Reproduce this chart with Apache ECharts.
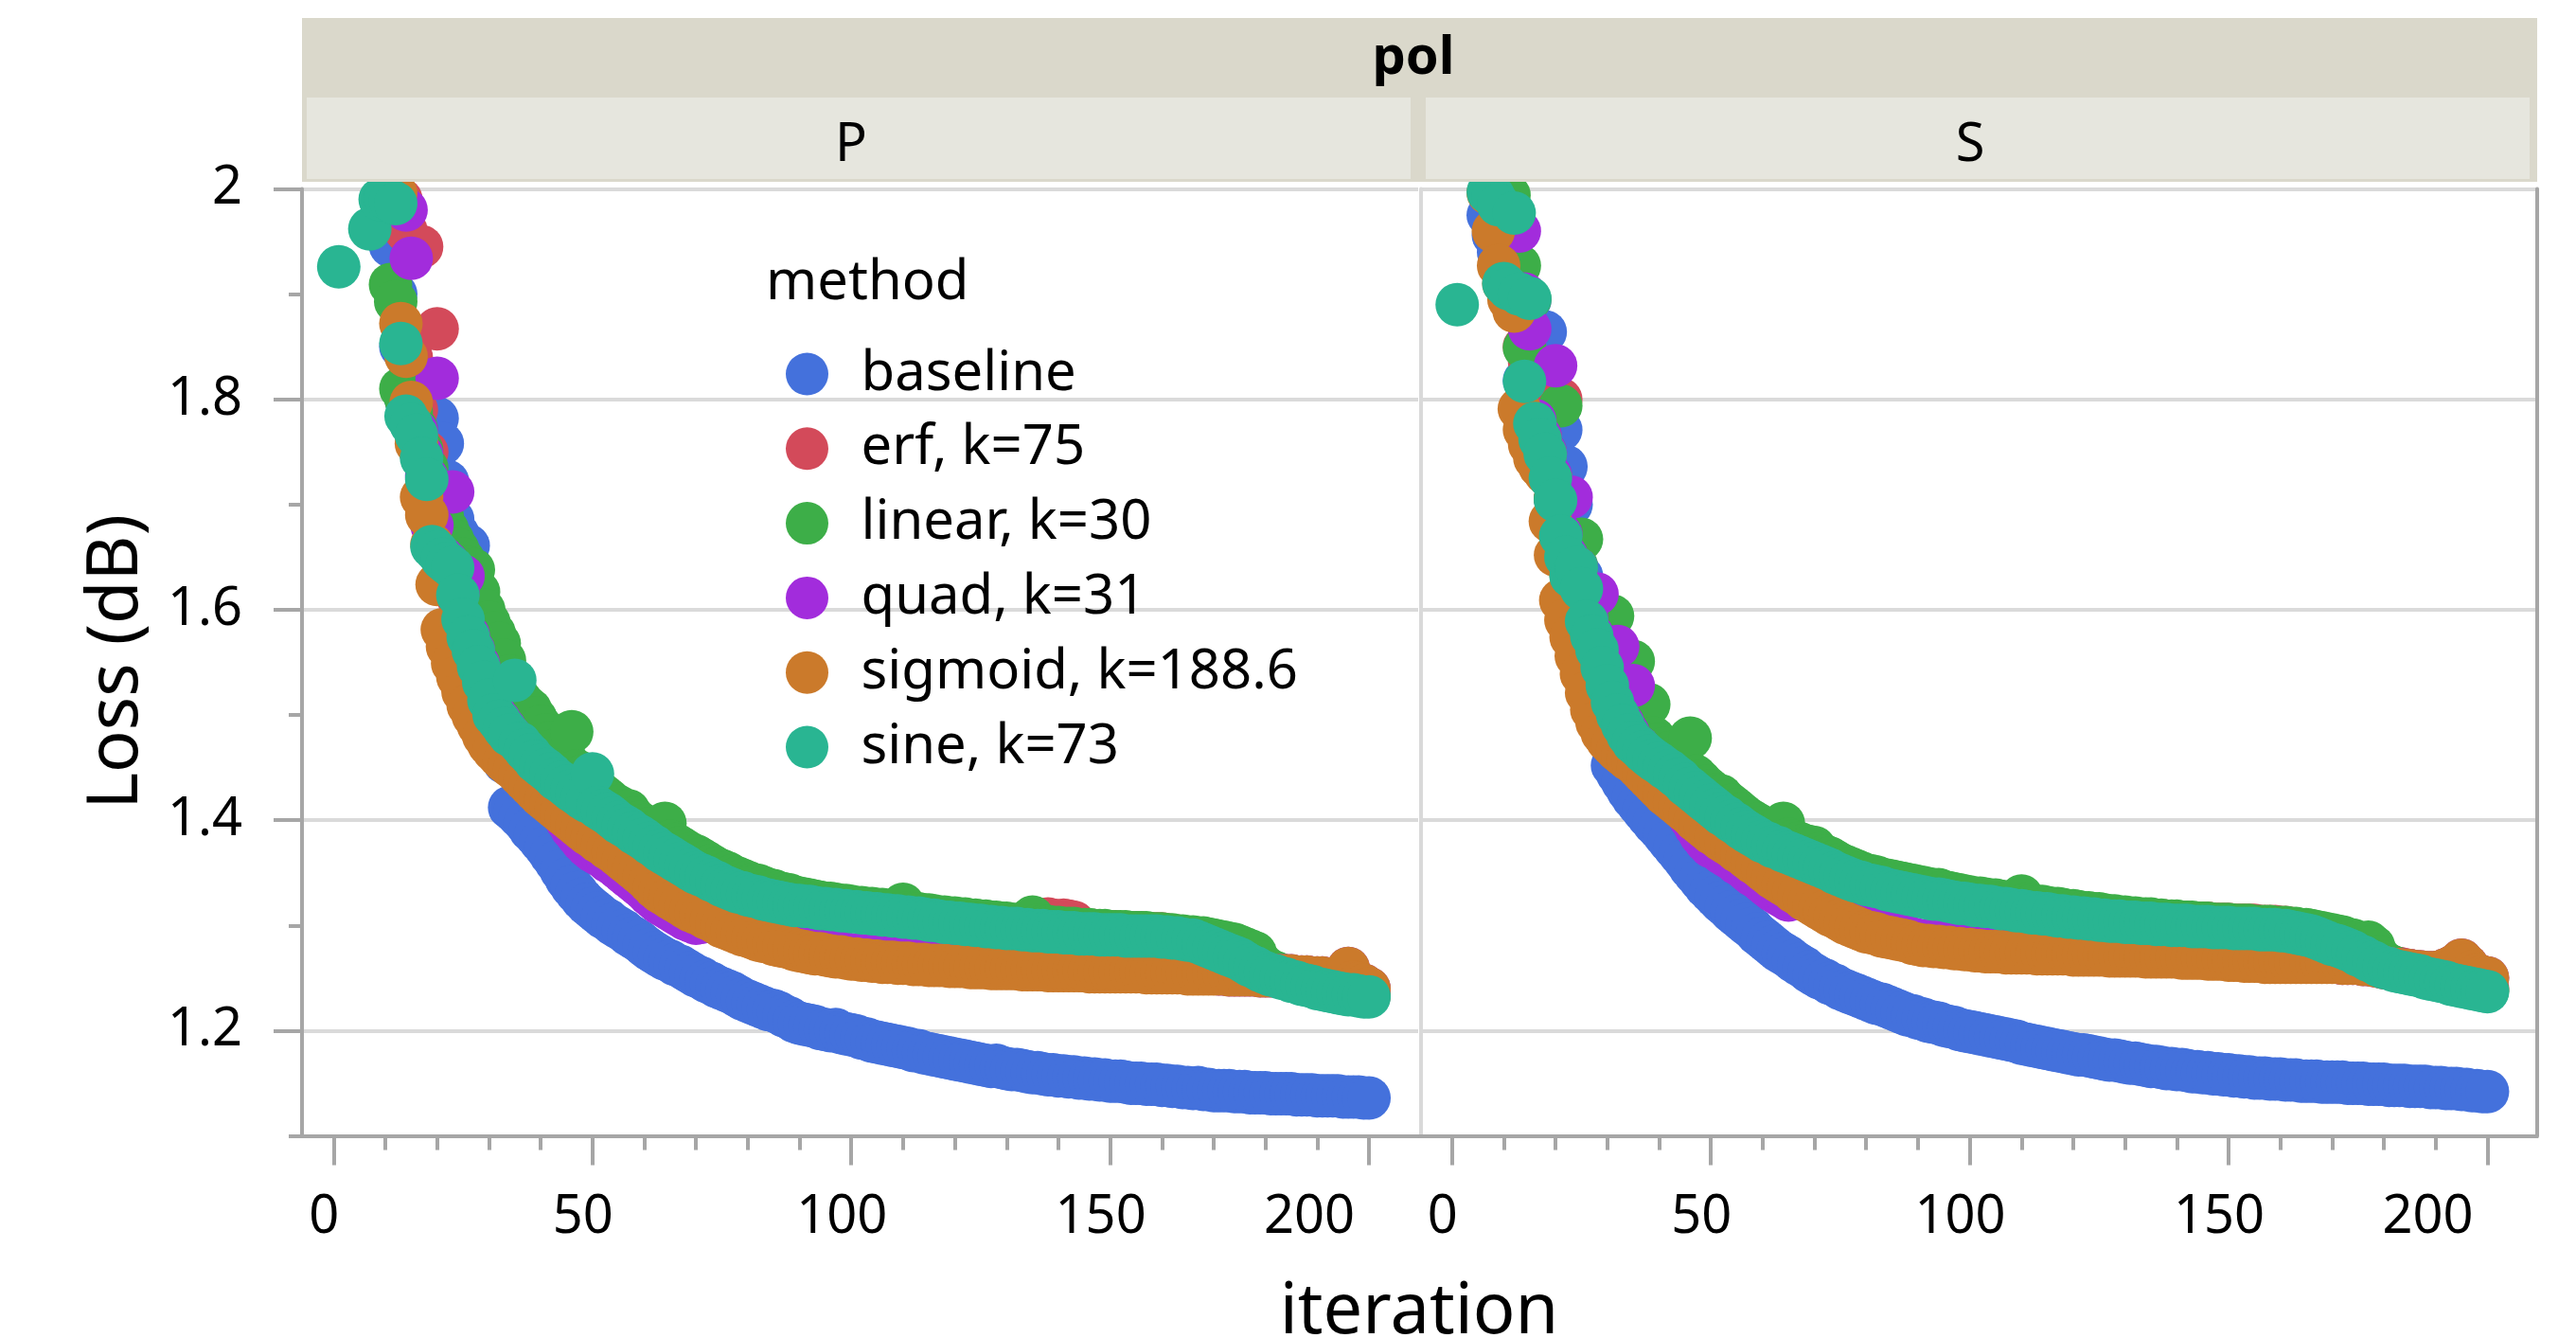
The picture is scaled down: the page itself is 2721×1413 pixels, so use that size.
<!DOCTYPE html>
<html><head><meta charset="utf-8">
<script src="https://cdn.jsdelivr.net/npm/echarts@6/dist/echarts.min.js"></script>
<style>html,body{margin:0;padding:0;background:#fff}#c{width:2721px;height:1413px}</style>
</head><body><div id="c"></div><script>
const _ = null;
const methods = ['baseline', 'erf, k=75', 'linear, k=30', 'quad, k=31', 'sigmoid, k=188.6', 'sine, k=73'];
const methodColors = ['#4471DC', '#D34A5A', '#3DAE48', '#A22CDC', '#CB7A2B', '#29B592'];
const panels = ['P', 'S'];
const facetTitle = 'pol';
const xTicks = [0, 50, 100, 150, 200];
const xMinorTicks = [0, 10, 20, 30, 40, 50, 60, 70, 80, 90, 100, 110, 120, 130, 140, 150, 160, 170, 180, 190, 200];
const yTicks = [1.2, 1.4, 1.6, 1.8, 2.0];
const iterations = Array.from({length: 200}, (d, i) => i + 1);

// ---- panel P ----
const P_baseline = [_,_,_,_,_,_,_,_,_,_,
1.946,1.900,1.850,1.800,1.780,1.768,1.748,1.728,1.700,1.782,
1.758,1.722,1.686,1.672,1.650,1.661,1.600,1.575,1.550,1.528,
1.505,1.480,1.455,1.412,1.408,1.403,1.398,1.391,1.386,1.380,
1.374,1.367,1.360,1.352,1.344,1.337,1.331,1.325,1.320,1.316,
1.312,1.308,1.305,1.301,1.298,1.295,1.291,1.288,1.285,1.281,
1.277,1.274,1.271,1.268,1.266,1.263,1.261,1.258,1.255,1.252,
1.250,1.247,1.245,1.242,1.240,1.238,1.236,1.233,1.230,1.228,
1.226,1.224,1.222,1.220,1.219,1.217,1.214,1.212,1.209,1.207,
1.206,1.205,1.204,1.202,1.201,1.200,1.201,1.198,1.197,1.196,
1.195,1.193,1.192,1.190,1.189,1.188,1.187,1.186,1.185,1.184,
1.183,1.181,1.181,1.179,1.178,1.177,1.176,1.175,1.174,1.173,
1.172,1.171,1.170,1.169,1.168,1.167,1.166,1.167,1.165,1.164,
1.163,1.163,1.162,1.161,1.160,1.160,1.159,1.158,1.158,1.157,
1.157,1.156,1.156,1.155,1.155,1.154,1.154,1.153,1.153,1.152,
1.152,1.152,1.151,1.150,1.150,1.150,1.149,1.149,1.149,1.148,
1.148,1.147,1.147,1.146,1.146,1.145,1.146,1.144,1.144,1.143,
1.143,1.143,1.143,1.142,1.142,1.142,1.141,1.141,1.141,1.141,
1.140,1.140,1.140,1.140,1.140,1.139,1.139,1.139,1.139,1.138,
1.138,1.138,1.138,1.138,1.137,1.137,1.137,1.137,1.136,1.136];

const P_erf = [_,_,_,_,_,_,_,_,_,_,
_,_,1.990,1.960,1.840,1.790,1.945,1.750,1.700,1.867,
1.655,1.645,1.640,1.612,1.590,1.575,1.560,1.546,1.530,1.515,
1.501,1.494,1.488,1.482,1.476,1.475,1.469,1.464,1.459,1.455,
1.450,1.446,1.442,1.438,1.435,1.431,1.427,1.424,1.421,1.418,
1.415,1.412,1.409,1.405,1.402,1.398,1.395,1.391,1.388,1.385,
1.381,1.378,1.374,1.371,1.368,1.365,1.362,1.359,1.356,1.353,
1.351,1.349,1.346,1.344,1.341,1.339,1.337,1.335,1.334,1.332,
1.331,1.330,1.328,1.327,1.326,1.325,1.324,1.323,1.322,1.322,
1.321,1.321,1.320,1.319,1.319,1.318,1.318,1.317,1.317,1.316,
1.316,1.315,1.315,1.314,1.314,1.313,1.313,1.312,1.312,1.311,
1.311,1.310,1.310,1.309,1.308,1.308,1.307,1.306,1.306,1.305,
1.305,1.304,1.304,1.303,1.303,1.302,1.302,1.301,1.301,1.300,
1.300,1.300,1.299,1.299,1.298,1.303,1.305,1.306,1.305,1.304,
1.305,1.304,1.303,1.298,1.296,1.295,1.295,1.294,1.294,1.294,
1.294,1.293,1.293,1.293,1.293,1.293,1.292,1.292,1.292,1.292,
1.291,1.290,1.290,1.289,1.288,1.287,1.285,1.283,1.281,1.279,
1.277,1.275,1.273,1.271,1.269,1.266,1.263,1.261,1.258,1.256,
1.254,1.253,1.251,1.250,1.248,1.247,1.245,1.244,1.243,1.241,
1.240,1.239,1.238,1.237,1.236,1.235,1.235,1.234,1.233,1.233];

const P_linear = [_,_,_,_,_,_,_,_,_,1.988,
1.909,1.893,1.810,1.800,1.788,1.772,1.752,1.735,1.718,1.702,
1.688,1.676,1.666,1.657,1.648,1.640,1.638,1.617,1.600,1.588,
1.578,1.568,1.552,1.537,1.524,1.515,1.509,1.505,1.497,1.489,
1.481,1.474,1.467,1.461,1.456,1.484,1.447,1.442,1.437,1.432,
1.428,1.424,1.420,1.416,1.413,1.409,1.409,1.402,1.398,1.395,
1.392,1.389,1.386,1.397,1.380,1.377,1.374,1.371,1.368,1.366,
1.363,1.360,1.357,1.354,1.352,1.350,1.347,1.345,1.343,1.341,
1.339,1.338,1.336,1.334,1.333,1.331,1.330,1.329,1.327,1.326,
1.325,1.324,1.323,1.322,1.321,1.321,1.320,1.319,1.319,1.318,
1.317,1.317,1.316,1.316,1.315,1.315,1.314,1.314,1.313,1.320,
1.312,1.311,1.311,1.310,1.310,1.309,1.308,1.308,1.307,1.307,
1.306,1.306,1.305,1.305,1.304,1.304,1.303,1.303,1.302,1.302,
1.301,1.301,1.300,1.302,1.308,1.300,1.299,1.299,1.298,1.298,
1.297,1.297,1.297,1.296,1.296,1.296,1.295,1.295,1.295,1.294,
1.294,1.294,1.294,1.293,1.293,1.293,1.293,1.292,1.292,1.292,
1.291,1.291,1.290,1.290,1.289,1.289,1.288,1.288,1.287,1.286,
1.285,1.284,1.283,1.282,1.280,1.278,1.276,1.274,1.265,1.260,
1.257,1.255,1.253,1.251,1.250,1.248,1.247,1.245,1.244,1.243,
1.242,1.241,1.240,1.239,1.238,1.237,1.236,1.236,1.235,1.235];

const P_quad = [_,_,_,_,_,_,_,_,_,_,
_,_,_,1.980,1.934,1.770,1.748,1.726,1.680,1.820,
1.650,1.645,1.712,1.616,1.632,1.576,1.562,1.548,1.533,1.516,
1.502,1.495,1.488,1.481,1.474,1.466,1.460,1.454,1.447,1.440,
1.432,1.424,1.416,1.408,1.400,1.392,1.386,1.380,1.375,1.371,
1.368,1.365,1.361,1.358,1.354,1.350,1.346,1.342,1.338,1.334,
1.329,1.325,1.321,1.318,1.315,1.312,1.309,1.306,1.304,1.302,
1.303,1.304,1.304,1.303,1.302,1.300,1.298,1.296,1.295,1.294,
1.292,1.290,1.289,1.288,1.286,1.285,1.284,1.283,1.281,1.280,
1.279,1.278,1.277,1.277,1.276,1.275,1.274,1.274,1.273,1.272,
1.272,1.271,1.271,1.270,1.270,1.269,1.269,1.269,1.268,1.268,
1.268,1.267,1.267,1.267,1.266,1.266,1.266,1.266,1.265,1.265,
1.265,1.265,1.264,1.264,1.264,1.264,1.263,1.263,1.263,1.263,
1.263,1.263,1.262,1.262,1.262,1.262,1.262,1.261,1.261,1.261,
1.261,1.261,1.261,1.261,1.261,1.260,1.260,1.260,1.260,1.260,
1.260,1.260,1.260,1.260,1.260,1.260,1.259,1.259,1.259,1.259,
1.259,1.259,1.259,1.259,1.258,1.258,1.258,1.258,1.258,1.258,
1.254,1.254,1.253,1.253,1.253,1.253,1.253,1.253,1.252,1.252,
1.252,1.252,1.252,1.252,1.252,1.251,1.251,1.251,1.250,1.250,
1.250,1.249,1.249,1.248,1.248,1.259,1.246,1.245,1.243,1.240];

const P_sigmoid = [_,_,_,_,_,_,_,_,_,_,
_,1.996,1.872,1.841,1.797,1.758,1.707,1.690,1.662,1.624,
1.581,1.565,1.549,1.536,1.522,1.509,1.499,1.490,1.480,1.472,
1.466,1.461,1.456,1.452,1.448,1.443,1.438,1.433,1.428,1.423,
1.419,1.415,1.411,1.407,1.403,1.399,1.395,1.391,1.387,1.384,
1.380,1.377,1.373,1.370,1.366,1.362,1.358,1.354,1.350,1.346,
1.341,1.336,1.332,1.329,1.326,1.323,1.320,1.317,1.314,1.312,
1.310,1.307,1.305,1.302,1.299,1.297,1.295,1.293,1.291,1.290,
1.288,1.286,1.285,1.284,1.282,1.281,1.280,1.279,1.277,1.276,
1.275,1.274,1.273,1.273,1.272,1.271,1.270,1.270,1.269,1.268,
1.268,1.267,1.267,1.266,1.266,1.265,1.265,1.265,1.264,1.264,
1.264,1.263,1.263,1.263,1.262,1.262,1.262,1.262,1.261,1.261,
1.261,1.261,1.260,1.260,1.260,1.260,1.259,1.259,1.259,1.259,
1.259,1.259,1.258,1.258,1.258,1.258,1.258,1.257,1.257,1.257,
1.257,1.257,1.257,1.257,1.257,1.256,1.256,1.256,1.256,1.256,
1.256,1.256,1.256,1.256,1.256,1.256,1.255,1.255,1.255,1.255,
1.255,1.255,1.255,1.255,1.254,1.254,1.254,1.254,1.254,1.254,
1.254,1.254,1.253,1.253,1.253,1.253,1.253,1.253,1.252,1.252,
1.252,1.252,1.252,1.252,1.252,1.251,1.251,1.251,1.250,1.250,
1.250,1.249,1.249,1.248,1.248,1.259,1.246,1.245,1.243,1.240];

const P_sine = [1.926,_,_,_,_,_,1.962,_,1.990,1.992,
1.989,1.986,1.853,1.784,1.776,1.766,1.744,1.724,1.660,1.655,
1.648,1.644,1.640,1.614,1.591,1.574,1.561,1.546,1.531,1.514,
1.500,1.494,1.487,1.481,1.533,1.473,1.467,1.462,1.456,1.452,
1.448,1.444,1.439,1.436,1.432,1.428,1.425,1.421,1.418,1.444,
1.412,1.409,1.406,1.402,1.398,1.395,1.392,1.388,1.385,1.382,
1.378,1.375,1.371,1.368,1.365,1.362,1.359,1.356,1.353,1.350,
1.348,1.346,1.343,1.341,1.338,1.336,1.334,1.332,1.331,1.329,
1.328,1.327,1.325,1.324,1.323,1.322,1.321,1.320,1.319,1.319,
1.318,1.318,1.317,1.316,1.316,1.315,1.315,1.314,1.314,1.313,
1.313,1.312,1.312,1.311,1.311,1.310,1.310,1.309,1.309,1.308,
1.308,1.307,1.307,1.306,1.305,1.305,1.304,1.303,1.303,1.302,
1.302,1.301,1.301,1.300,1.300,1.299,1.299,1.298,1.298,1.297,
1.297,1.297,1.296,1.296,1.295,1.295,1.295,1.294,1.294,1.294,
1.293,1.293,1.293,1.292,1.292,1.292,1.292,1.291,1.291,1.291,
1.291,1.291,1.290,1.290,1.290,1.290,1.290,1.290,1.290,1.289,
1.289,1.288,1.288,1.287,1.286,1.286,1.284,1.282,1.280,1.278,
1.276,1.274,1.272,1.270,1.268,1.265,1.262,1.260,1.257,1.255,
1.253,1.252,1.250,1.249,1.247,1.246,1.244,1.243,1.242,1.240,
1.239,1.238,1.237,1.236,1.235,1.234,1.234,1.233,1.232,1.232];

// ---- panel S ----
const S_baseline = [_,_,_,_,_,_,1.975,1.956,1.940,1.925,
1.910,1.905,1.895,1.818,1.894,1.778,1.762,1.864,1.726,1.705,
1.771,1.736,1.700,1.665,1.632,1.600,1.570,1.540,1.510,1.482,
1.452,1.444,1.436,1.428,1.421,1.415,1.409,1.403,1.397,1.392,
1.386,1.380,1.374,1.368,1.362,1.355,1.349,1.343,1.337,1.332,
1.327,1.322,1.318,1.313,1.309,1.305,1.301,1.297,1.292,1.288,
1.284,1.280,1.276,1.273,1.270,1.266,1.263,1.260,1.256,1.253,
1.250,1.248,1.245,1.243,1.240,1.238,1.236,1.234,1.232,1.230,
1.228,1.226,1.225,1.223,1.221,1.219,1.217,1.215,1.214,1.212,
1.211,1.209,1.208,1.207,1.205,1.204,1.203,1.201,1.200,1.199,
1.198,1.197,1.196,1.195,1.194,1.193,1.192,1.191,1.190,1.188,
1.187,1.186,1.185,1.184,1.183,1.182,1.181,1.180,1.179,1.178,
1.177,1.177,1.176,1.175,1.174,1.173,1.172,1.172,1.171,1.170,
1.169,1.169,1.168,1.167,1.166,1.166,1.165,1.164,1.164,1.163,
1.163,1.162,1.161,1.161,1.160,1.160,1.159,1.159,1.158,1.158,
1.157,1.157,1.156,1.156,1.155,1.155,1.155,1.154,1.154,1.154,
1.153,1.153,1.153,1.152,1.152,1.152,1.152,1.151,1.151,1.151,
1.151,1.151,1.150,1.150,1.150,1.150,1.149,1.149,1.149,1.149,
1.148,1.148,1.148,1.148,1.147,1.147,1.147,1.147,1.146,1.146,
1.146,1.145,1.145,1.145,1.144,1.144,1.143,1.143,1.142,1.142];

const S_erf = [_,_,_,_,_,_,_,_,_,1.990,
1.975,1.960,1.905,1.850,1.835,1.800,1.765,1.748,1.727,1.706,
1.800,1.652,1.634,1.638,1.620,1.592,1.577,1.563,1.546,1.530,
1.514,1.502,1.492,1.483,1.476,1.471,1.466,1.462,1.458,1.455,
1.452,1.449,1.445,1.441,1.437,1.433,1.429,1.425,1.421,1.417,
1.413,1.409,1.406,1.402,1.399,1.395,1.392,1.389,1.386,1.383,
1.381,1.378,1.376,1.374,1.372,1.370,1.368,1.366,1.364,1.362,
1.360,1.358,1.356,1.353,1.351,1.349,1.347,1.345,1.344,1.342,
1.341,1.340,1.339,1.337,1.336,1.335,1.334,1.333,1.332,1.331,
1.330,1.329,1.328,1.328,1.327,1.326,1.325,1.324,1.324,1.323,
1.322,1.322,1.321,1.321,1.320,1.319,1.319,1.318,1.317,1.317,
1.316,1.315,1.315,1.314,1.314,1.313,1.312,1.312,1.311,1.311,
1.310,1.310,1.309,1.309,1.308,1.308,1.307,1.307,1.307,1.306,
1.306,1.306,1.305,1.305,1.305,1.304,1.304,1.304,1.303,1.303,
1.303,1.303,1.302,1.302,1.302,1.302,1.301,1.301,1.301,1.301,
1.300,1.300,1.300,1.300,1.300,1.299,1.299,1.299,1.299,1.298,
1.298,1.297,1.296,1.295,1.294,1.293,1.291,1.289,1.287,1.285,
1.284,1.282,1.280,1.278,1.275,1.273,1.270,1.268,1.265,1.263,
1.262,1.260,1.259,1.258,1.257,1.256,1.255,1.253,1.252,1.251,
1.250,1.249,1.247,1.246,1.245,1.244,1.243,1.242,1.241,1.240];

const S_linear = [_,_,_,_,_,_,_,_,_,_,
1.994,1.960,1.927,1.849,1.895,1.778,1.763,1.750,1.727,1.706,
1.794,1.652,1.634,1.642,1.667,1.600,1.585,1.572,1.556,1.540,
1.594,1.520,1.505,1.495,1.551,1.498,1.490,1.510,1.478,1.472,
1.468,1.464,1.460,1.455,1.450,1.478,1.442,1.437,1.432,1.428,
1.424,1.423,1.418,1.414,1.410,1.406,1.402,1.399,1.396,1.393,
1.390,1.388,1.386,1.397,1.382,1.380,1.378,1.376,1.375,1.374,
1.368,1.366,1.364,1.361,1.358,1.356,1.354,1.352,1.350,1.348,
1.347,1.346,1.344,1.343,1.342,1.341,1.340,1.339,1.338,1.337,
1.336,1.335,1.334,1.334,1.332,1.331,1.330,1.329,1.328,1.327,
1.326,1.326,1.325,1.324,1.324,1.323,1.322,1.322,1.321,1.328,
1.320,1.319,1.318,1.318,1.317,1.316,1.316,1.315,1.314,1.314,
1.313,1.312,1.312,1.311,1.311,1.310,1.309,1.309,1.308,1.308,
1.307,1.307,1.306,1.306,1.306,1.305,1.305,1.304,1.304,1.304,
1.303,1.303,1.303,1.302,1.302,1.302,1.301,1.301,1.301,1.301,
1.300,1.300,1.300,1.300,1.299,1.299,1.299,1.299,1.298,1.298,
1.298,1.297,1.297,1.296,1.296,1.295,1.294,1.293,1.292,1.291,
1.290,1.289,1.287,1.286,1.284,1.281,1.284,1.280,1.270,1.265,
1.262,1.260,1.258,1.256,1.255,1.254,1.253,1.251,1.250,1.249,
1.248,1.247,1.245,1.244,1.243,1.242,1.241,1.240,1.239,1.238];

const S_quad = [_,_,_,_,_,_,_,_,_,_,
_,_,1.960,1.900,1.867,1.780,1.765,1.750,1.728,1.832,
1.672,1.652,1.707,1.640,1.622,1.592,1.577,1.615,1.547,1.530,
1.514,1.565,1.492,1.483,1.528,1.470,1.464,1.458,1.452,1.446,
1.440,1.432,1.425,1.417,1.410,1.402,1.394,1.386,1.380,1.375,
1.373,1.369,1.366,1.363,1.359,1.356,1.352,1.348,1.345,1.341,
1.337,1.333,1.330,1.327,1.324,1.326,1.327,1.326,1.324,1.322,
1.320,1.317,1.314,1.312,1.309,1.306,1.304,1.302,1.300,1.298,
1.297,1.296,1.294,1.293,1.292,1.291,1.290,1.289,1.287,1.286,
1.285,1.285,1.284,1.284,1.283,1.283,1.282,1.282,1.281,1.281,
1.280,1.280,1.279,1.279,1.279,1.279,1.278,1.278,1.278,1.278,
1.278,1.278,1.277,1.277,1.277,1.277,1.277,1.277,1.277,1.276,
1.276,1.276,1.276,1.276,1.276,1.276,1.275,1.275,1.275,1.275,
1.275,1.275,1.275,1.274,1.274,1.274,1.274,1.274,1.274,1.274,
1.273,1.273,1.273,1.273,1.273,1.272,1.272,1.272,1.272,1.271,
1.271,1.271,1.270,1.270,1.270,1.270,1.269,1.269,1.269,1.269,
1.269,1.269,1.269,1.269,1.269,1.269,1.269,1.269,1.269,1.269,
1.265,1.264,1.264,1.264,1.264,1.263,1.263,1.262,1.261,1.260,
1.259,1.258,1.258,1.257,1.257,1.256,1.256,1.255,1.255,1.255,
1.256,1.258,1.260,1.263,1.267,1.262,1.256,1.253,1.251,1.250];

const S_sigmoid = [_,_,_,_,_,_,1.996,1.960,1.927,1.910,
1.895,1.884,1.791,1.771,1.757,1.744,1.736,1.730,1.684,1.652,
1.609,1.590,1.574,1.556,1.539,1.521,1.505,1.493,1.483,1.476,
1.471,1.466,1.462,1.458,1.455,1.450,1.445,1.440,1.435,1.430,
1.425,1.421,1.417,1.413,1.409,1.405,1.400,1.396,1.392,1.388,
1.385,1.381,1.378,1.375,1.371,1.368,1.364,1.360,1.357,1.353,
1.349,1.345,1.342,1.339,1.336,1.332,1.329,1.325,1.322,1.319,
1.316,1.313,1.310,1.308,1.305,1.302,1.300,1.298,1.296,1.294,
1.293,1.292,1.290,1.289,1.288,1.287,1.286,1.285,1.283,1.282,
1.281,1.281,1.280,1.280,1.279,1.279,1.278,1.278,1.277,1.277,
1.276,1.276,1.275,1.275,1.275,1.275,1.274,1.274,1.274,1.274,
1.274,1.274,1.273,1.273,1.273,1.273,1.273,1.273,1.273,1.272,
1.272,1.272,1.272,1.272,1.272,1.272,1.271,1.271,1.271,1.271,
1.271,1.271,1.271,1.270,1.270,1.270,1.270,1.270,1.270,1.270,
1.269,1.269,1.269,1.269,1.269,1.268,1.268,1.268,1.268,1.267,
1.267,1.267,1.266,1.266,1.266,1.266,1.265,1.265,1.265,1.265,
1.265,1.265,1.265,1.265,1.265,1.265,1.265,1.265,1.265,1.265,
1.265,1.264,1.264,1.264,1.264,1.263,1.263,1.262,1.261,1.260,
1.259,1.258,1.258,1.257,1.257,1.256,1.256,1.255,1.255,1.255,
1.256,1.258,1.260,1.263,1.267,1.262,1.256,1.253,1.251,1.250];

const S_sine = [1.890,_,_,_,_,_,1.997,1.993,1.985,1.910,
1.905,1.977,1.900,1.817,1.896,1.777,1.762,1.748,1.725,1.704,
1.670,1.650,1.632,1.640,1.620,1.589,1.575,1.562,1.545,1.528,
1.512,1.500,1.490,1.481,1.474,1.470,1.465,1.461,1.457,1.454,
1.450,1.447,1.443,1.439,1.434,1.430,1.426,1.422,1.418,1.414,
1.410,1.406,1.403,1.399,1.396,1.392,1.389,1.386,1.383,1.380,
1.378,1.375,1.374,1.371,1.369,1.367,1.365,1.363,1.361,1.359,
1.357,1.355,1.353,1.350,1.348,1.346,1.344,1.342,1.341,1.339,
1.338,1.337,1.336,1.334,1.333,1.332,1.331,1.330,1.329,1.328,
1.327,1.326,1.325,1.325,1.324,1.323,1.322,1.321,1.321,1.320,
1.319,1.319,1.318,1.318,1.317,1.316,1.316,1.315,1.314,1.314,
1.313,1.312,1.312,1.311,1.311,1.310,1.309,1.309,1.308,1.308,
1.307,1.307,1.306,1.306,1.305,1.305,1.304,1.304,1.304,1.303,
1.303,1.303,1.302,1.302,1.302,1.301,1.301,1.301,1.300,1.300,
1.300,1.300,1.299,1.299,1.299,1.299,1.298,1.298,1.298,1.298,
1.297,1.297,1.297,1.297,1.297,1.296,1.296,1.296,1.296,1.295,
1.295,1.294,1.293,1.292,1.291,1.290,1.288,1.286,1.284,1.282,
1.281,1.279,1.277,1.275,1.272,1.270,1.267,1.265,1.262,1.260,
1.259,1.257,1.256,1.255,1.254,1.253,1.252,1.250,1.249,1.248,
1.247,1.246,1.244,1.243,1.242,1.241,1.240,1.239,1.238,1.237];

const panelData = [
  [P_baseline, P_erf, P_linear, P_quad, P_sigmoid, P_sine],
  [S_baseline, S_erf, S_linear, S_quad, S_sigmoid, S_sine]
];

const FONT = 'Noto Sans';
const AXIS_GRAY = '#A6A6A6';
const GRID_GRAY = '#DADADA';
const X_RANGE = [-6.1, 209.5];
const Y_RANGE = [1.1, 2.0];

const grids = [
  {left: 319, top: 199.5, width: 1179, height: 1000, outerBoundsMode: 'none', containLabel: false},
  {left: 1500.4, top: 199.5, width: 1179, height: 1000, outerBoundsMode: 'none', containLabel: false}
];

const tickStyle = {color: AXIS_GRAY, width: 4};
const xAxes = [];
const yAxes = [];
panels.forEach((p, i) => {
  xAxes.push({
    type: 'value', gridIndex: i, min: X_RANGE[0], max: X_RANGE[1], position: 'bottom',
    axisLine: {show: true, onZero: false, lineStyle: {color: AXIS_GRAY, width: 4, cap: 'square'}},
    axisTick: {show: true, customValues: xMinorTicks, length: 15, lineStyle: tickStyle},
    axisLabel: {
      show: true, customValues: xTicks, margin: 59, color: '#000', fontFamily: FONT, fontSize: 56,
      hideOverlap: false,
      formatter: v => (v === 200 ? '{w|200}' : '{n|' + v + '}'),
      rich: {
        n: {fontFamily: FONT, fontSize: 56, color: '#000', padding: [0, 20, 0, 0]},
        w: {fontFamily: FONT, fontSize: 56, color: '#000', padding: [0, 126, 0, 0]}
      }
    },
    splitLine: {show: false}
  });
  xAxes.push({
    type: 'value', gridIndex: i, min: X_RANGE[0], max: X_RANGE[1], position: 'bottom',
    axisLine: {show: false, onZero: false},
    axisTick: {show: true, customValues: xTicks, length: 31, lineStyle: tickStyle},
    axisLabel: {show: false}, splitLine: {show: false}
  });
});
// panel P y axes
yAxes.push({
  type: 'value', gridIndex: 0, min: Y_RANGE[0], max: Y_RANGE[1], interval: 0.1, position: 'left',
  axisLine: {show: true, onZero: false, lineStyle: {color: AXIS_GRAY, width: 4}},
  axisTick: {show: true, length: 14, lineStyle: tickStyle},
  axisLabel: {show: true, customValues: yTicks, margin: 63, color: '#000', fontFamily: FONT, fontSize: 56,
    formatter: v => (Math.abs(v - 2) < 1e-9 ? '2' : v.toFixed(1))},
  splitLine: {show: true, lineStyle: {color: ['rgba(0,0,0,0)', GRID_GRAY], width: 4}}
});
yAxes.push({
  type: 'value', gridIndex: 0, min: Y_RANGE[0], max: Y_RANGE[1], position: 'left',
  axisLine: {show: false, onZero: false},
  axisTick: {show: true, customValues: yTicks, length: 30, lineStyle: tickStyle},
  axisLabel: {show: false}, splitLine: {show: false}
});
// panel S y axes
yAxes.push({
  type: 'value', gridIndex: 1, min: Y_RANGE[0], max: Y_RANGE[1], interval: 0.1, position: 'left',
  axisLine: {show: true, onZero: false, lineStyle: {color: '#D9D9D9', width: 4}},
  axisTick: {show: false}, axisLabel: {show: false},
  splitLine: {show: true, lineStyle: {color: ['rgba(0,0,0,0)', GRID_GRAY], width: 4}}
});
yAxes.push({
  type: 'value', gridIndex: 1, min: Y_RANGE[0], max: Y_RANGE[1], position: 'right',
  axisLine: {show: true, onZero: false, lineStyle: {color: AXIS_GRAY, width: 4}},
  axisTick: {show: false}, axisLabel: {show: false}, splitLine: {show: false}
});

const series = [];
panelData.forEach((panel, p) => {
  panel.forEach((vals, m) => {
    const data = [];
    vals.forEach((v, k) => { if (v !== null) data.push([iterations[k], v]); });
    series.push({
      name: methods[m], type: 'scatter', xAxisIndex: p * 2, yAxisIndex: p * 2,
      data: data, symbol: 'circle', symbolSize: 46,
      itemStyle: {color: methodColors[m], opacity: 1},
      silent: true, animation: false, clip: true
    });
  });
});

const txt = (text, x, y, size, extra) => ({
  type: 'text', x: x, y: y, z: 110, silent: true,
  style: Object.assign({text: text, fill: '#000', fontSize: size, fontFamily: FONT,
    textAlign: 'center', textVerticalAlign: 'middle'}, extra || {})
});

const graphic = [
  {type: 'rect', z: 100, silent: true, shape: {x: 319, y: 19, width: 2361, height: 173}, style: {fill: '#DAD8CB'}},
  {type: 'rect', z: 101, silent: true, shape: {x: 324, y: 103, width: 1166, height: 86}, style: {fill: '#E6E6DE'}},
  {type: 'rect', z: 101, silent: true, shape: {x: 1506, y: 103, width: 1166, height: 86}, style: {fill: '#E6E6DE'}},
  txt(facetTitle, 1493, 62, 56, {fontWeight: 'bold'}),
  txt(panels[0], 899, 154, 56),
  txt(panels[1], 2081, 154, 56),
  txt('method', 809, 299, 58, {textAlign: 'left'}),
  txt('iteration', 1499, 1387, 74),
  Object.assign(txt('Loss (dB)', 124, 699, 74), {rotation: Math.PI / 2})
];

const chart = echarts.init(document.getElementById('c'), null, {renderer: 'canvas'});
chart.setOption({
  animation: false,
  backgroundColor: '#fff',
  textStyle: {fontFamily: FONT},
  grid: grids,
  xAxis: xAxes,
  yAxis: yAxes,
  legend: {
    orient: 'vertical', left: 830, top: 366, itemWidth: 104, itemHeight: 45, itemGap: 20.8,
    padding: 0, icon: 'circle', selectedMode: false, data: methods,
    textStyle: {fontSize: 58, lineHeight: 56, fontFamily: FONT, color: '#000'}
  },
  graphic: graphic,
  series: series
});
</script></body></html>
